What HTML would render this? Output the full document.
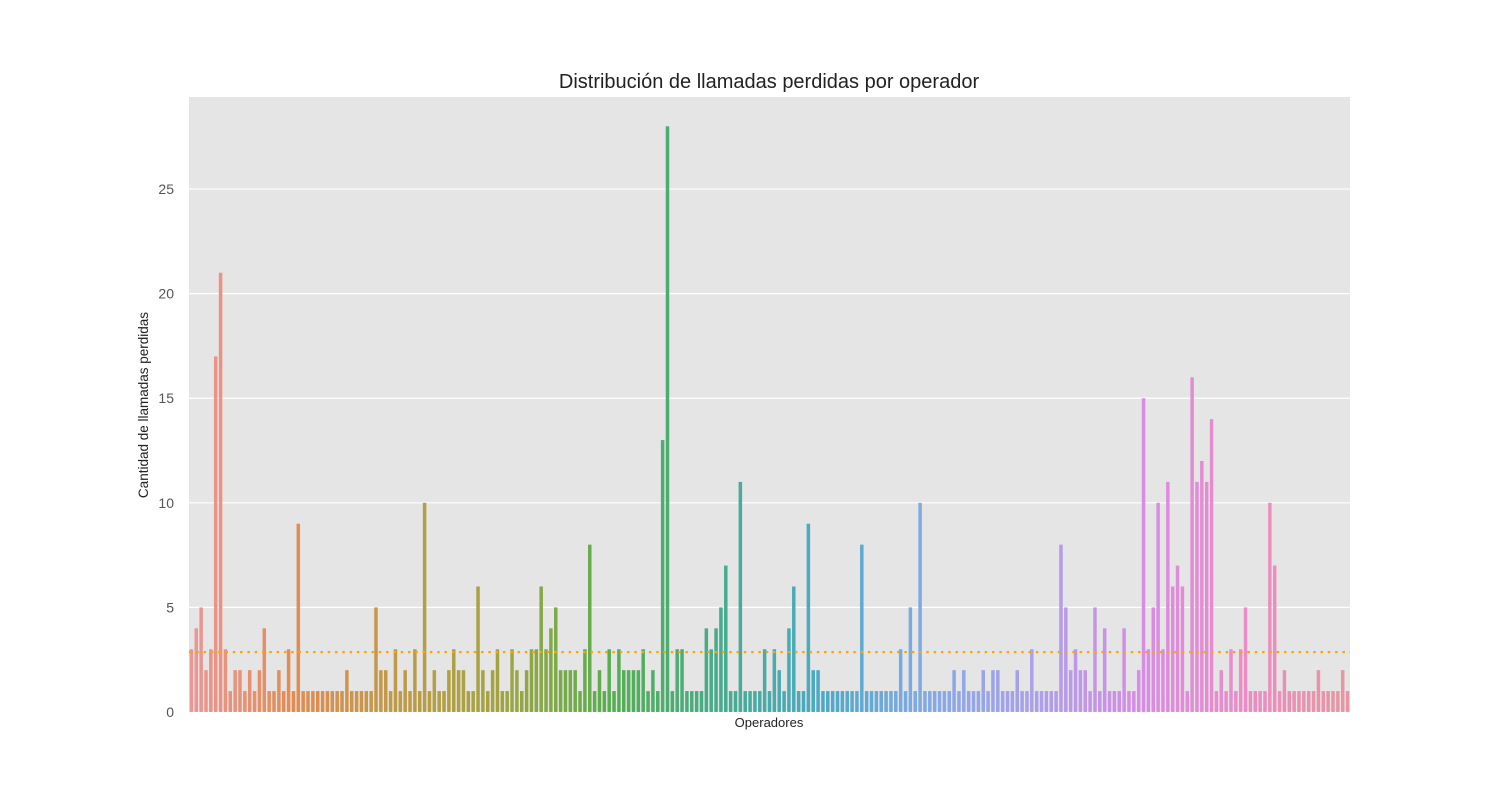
<!DOCTYPE html>
<html><head><meta charset="utf-8"><style>
html,body{margin:0;padding:0;background:#fff;}
svg{display:block;font-family:"Liberation Sans",sans-serif;}
</style></head><body>
<svg id="chart" width="1500" height="800">
<text x="769" y="88" text-anchor="middle" font-size="20" fill="#222">Distribución de llamadas perdidas por operador</text>
<rect x="189" y="97" width="1161" height="615" fill="#e5e5e5"/>
<g id="grid"></g>
<g id="bars"></g>
<g id="yticks"></g>
<text x="769" y="727" text-anchor="middle" font-size="13" fill="#222">Operadores</text>
<text transform="translate(148,405) rotate(-90)" text-anchor="middle" font-size="13.5" fill="#222">Cantidad de llamadas perdidas</text>
</svg>
<script>
const values = [3,4,5,2,3,17,21,3,1,2,2,1,2,1,2,4,1,1,2,1,3,1,9,1,1,1,1,1,1,1,1,1,2,1,1,1,1,1,5,2,2,
1,3,1,2,1,3,1,10,1,2,1,1,2,3,2,2,1,1,6,2,1,2,3,1,1,3,2,1,2,3,3,6,3,4,5,2,2,2,2,1,
3,8,1,2,1,3,1,3,2,2,2,2,3,1,2,1,13,28,1,3,3,1,1,1,1,4,3,4,5,7,1,1,11,1,1,1,1,3,1,3,
2,1,4,6,1,1,9,2,2,1,1,1,1,1,1,1,1,8,1,1,1,1,1,1,1,3,1,5,1,10,1,1,1,1,1,1,2,1,2,1,
1,1,2,1,2,2,1,1,1,2,1,1,3,1,1,1,1,1,8,5,2,3,2,2,1,5,1,4,1,1,1,4,1,1,2,15,3,5,10,
3,11,6,7,6,1,16,11,12,11,14,1,2,1,3,1,3,5,1,1,1,1,10,7,1,2,1,1,1,1,1,1,2,1,1,1,1,2,1];
const yTicks = [0,5,10,15,20,25];
const yMax = 29.4;
const X0=189, X1=1350, Y0=712, Y1=97;
const NS='http://www.w3.org/2000/svg';
const n = values.length;
const pitch = (X1-X0)/n;
const xPos = i => X0 + (i+0.5)*pitch;
const yPos = v => Y0 - v/yMax*(Y0-Y1);
const keys=[[236,150,150],[226,140,80],[190,155,70],[160,165,65],[85,175,80],[70,172,140],[75,170,200],[130,170,230],[170,160,235],[215,140,230],[235,140,200],[232,150,160]];
function color(i){const t=i/(n-1)*(keys.length-1);const k=Math.min(Math.floor(t),keys.length-2);const f=t-k;
 const c=keys[k].map((a,j)=>Math.round(a+(keys[k+1][j]-a)*f));return `rgb(${c[0]},${c[1]},${c[2]})`;}
const grid=document.getElementById('grid'), yt=document.getElementById('yticks'), bars=document.getElementById('bars');
yTicks.forEach(v=>{
 const l=document.createElementNS(NS,'line');
 l.setAttribute('x1',X0);l.setAttribute('x2',X1);l.setAttribute('y1',yPos(v));l.setAttribute('y2',yPos(v));
 l.setAttribute('stroke','#fff');l.setAttribute('stroke-width','1.2');
 
 
 grid.appendChild(l);
 const t=document.createElementNS(NS,'text');
 t.setAttribute('x',174);t.setAttribute('y',yPos(v)+5);t.setAttribute('text-anchor','end');
 t.setAttribute('font-size','14');t.setAttribute('fill','#555');t.textContent=v;
 
 
 yt.appendChild(t);
});
values.forEach((v,i)=>{
 const r=document.createElementNS(NS,'rect');
 const w=pitch*0.72;
 r.setAttribute('x',xPos(i)-w/2);r.setAttribute('width',w);
 r.setAttribute('y',yPos(v));r.setAttribute('height',Y0-yPos(v));
 r.setAttribute('fill',color(i));
 
 
 bars.appendChild(r);
});
const mean = values.reduce((a,b)=>a+b,0)/n;
const ml=document.createElementNS(NS,'line');
ml.setAttribute('x1',X0);ml.setAttribute('x2',X1);ml.setAttribute('y1',yPos(mean));ml.setAttribute('y2',yPos(mean));
ml.setAttribute('stroke','#ffa500');ml.setAttribute('stroke-width','2.2');ml.setAttribute('stroke-dasharray','2.5 4.8');


bars.appendChild(ml);
</script>
</body></html>
